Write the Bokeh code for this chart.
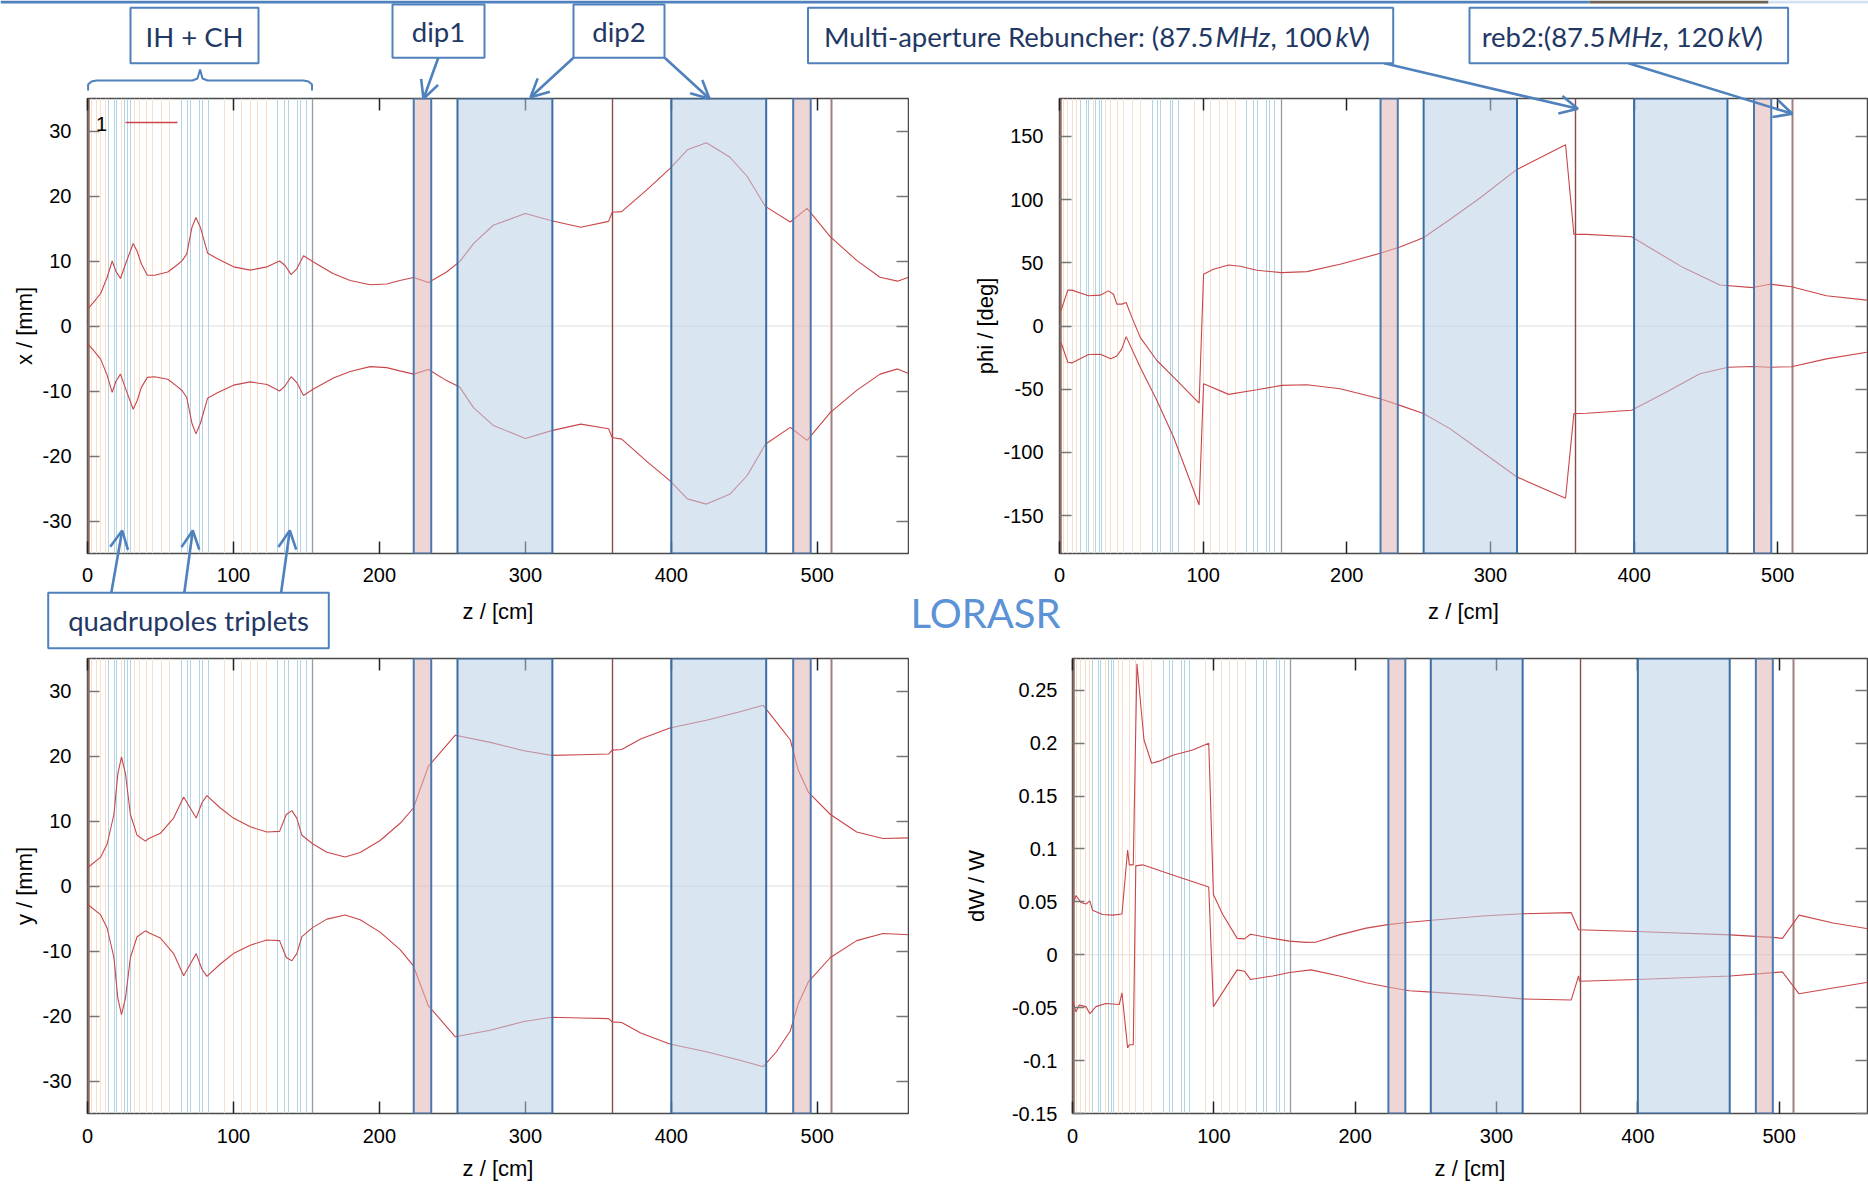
from bokeh.plotting import figure
from bokeh.layouts import column, row
from bokeh.models import (Range1d, LinearAxis, FixedTicker, BoxAnnotation, Label,
                          Arrow, OpenHead, Span)
from bokeh.embed import file_html
from bokeh.resources import INLINE

# ---------------------------------------------------------------- lattice (cm)
GAP_Z = [3.0, 5.9, 8.9, 12.1, 23.5, 32.2, 35.6, 40.2, 44.7, 50.5, 56.2,
         93.8, 100.0, 105.3, 111.4, 116.7, 122.4]
QUAD_Z = [14.4, 18.5, 20.1, 25.4, 27.6, 29.2,
          64.5, 68.5, 70.5, 77.0, 79.0, 83.0,
          130.5, 134.8, 137.5, 144.0, 146.2, 149.8]
LINAC_START_Z = [1.0]
LINAC_END_Z = [154.3]
DIP1_START = [223.5, 483.5]
DIP1_END = [235.5, 495.5]
DIP2_START = [253.5, 400.0]
DIP2_END = [318.5, 465.0]
REB1_Z = [359.5]
REB2_Z = [510.0]

# ---------------------------------------------------------------- x envelope (mm)
X_Z = [0, 4, 9, 13.5, 16.9, 19.5, 22.6, 26, 31.3, 34, 37, 41, 46, 55, 62, 65, 68,
       71.6, 74.3, 77.3, 82.3, 88.7, 100, 111.5, 123, 131.6, 135.4, 139.5, 143.4,
       148, 154.8, 168.5, 180, 193.6, 205, 214, 223.5, 233.6, 246, 255, 264.6, 278,
       300, 318, 338, 357, 359.5, 366, 383, 399, 411, 424, 440, 452, 464.4, 481.5,
       493, 509, 527, 543, 555, 562.5]
X_UP = [2.6, 3.6, 5.0, 7.5, 10.0, 8.4, 7.3, 9.5, 12.7, 11.5, 9.5, 7.8, 7.8, 8.3,
        9.5, 10.1, 11.1, 15.2, 16.7, 15.2, 11.2, 10.4, 9.1, 8.6, 9.1, 10.0, 9.3,
        7.9, 8.8, 10.8, 9.85, 8.05, 7.0, 6.35, 6.45, 7.0, 7.45, 6.7, 8.3, 9.9,
        12.7, 15.5, 17.3, 16.2, 15.2, 16.1, 17.5, 17.6, 20.9, 24.2, 27.1, 28.2,
        26.0, 23.0, 18.4, 16.0, 18.1, 13.7, 10.1, 7.5, 6.9, 7.5]
X_LO = [-2.7, -3.7, -5.1, -7.6, -10.2, -8.5, -7.4, -9.6, -12.8, -11.5, -9.4, -7.9,
        -7.8, -8.2, -9.4, -10.0, -11.0, -15.0, -16.6, -15.0, -11.1, -10.3, -9.1,
        -8.6, -9.0, -10.0, -9.2, -7.8, -8.7, -10.7, -9.7, -8.0, -7.0, -6.25, -6.4,
        -6.9, -7.4, -6.7, -8.4, -9.4, -12.6, -15.3, -17.3, -16.1, -15.1, -15.8,
        -17.15, -17.4, -20.8, -23.8, -26.6, -27.4, -25.9, -23.0, -18.2, -15.6,
        -17.6, -13.3, -9.9, -7.4, -6.6, -7.3]

# ---------------------------------------------------------------- y envelope (mm)
Y_Z = [0, 8.9, 13.5, 18.1, 20.8, 23.3, 26, 29.4, 34, 39.7, 42, 49.9, 59, 65.9, 70.9,
       74.5, 78.4, 81.8, 91, 100, 111.5, 122.9, 131.6, 136.2, 140, 143.4, 146.9,
       154.2, 164, 176.5, 186.8, 200.5, 214.2, 223.3, 233.5, 252, 276, 299, 318,
       338, 357, 359.5, 366, 379, 399, 424, 447, 463, 472, 481.5, 487, 494, 509,
       527, 545, 562.5]
Y_UP = [2.8, 4.4, 6.5, 11.0, 17.3, 19.85, 17.3, 11.0, 7.8, 6.9, 7.3, 8.1, 10.45,
        13.7, 11.8, 10.45, 12.8, 13.9, 12.0, 10.45, 9.1, 8.3, 8.4, 11.0, 11.6,
        10.45, 7.8, 6.5, 5.2, 4.47, 5.16, 7.0, 9.65, 12.0, 18.4, 23.2, 22.1, 20.8,
        20.1, 20.2, 20.3, 20.9, 21.0, 22.6, 24.3, 25.5, 26.8, 27.8, 25.2, 22.5,
        17.8, 14.4, 11.0, 8.3, 7.3, 7.4]
Y_LO = [-2.8, -4.4, -6.5, -11.0, -17.3, -19.8, -17.3, -11.0, -7.8, -6.9, -7.2,
        -8.0, -10.4, -13.8, -11.8, -10.4, -12.8, -13.9, -12.0, -10.4, -9.1, -8.3,
        -8.4, -11.0, -11.5, -10.4, -7.8, -6.4, -5.1, -4.46, -5.2, -7.1, -9.8,
        -12.3, -18.4, -23.2, -22.2, -20.85, -20.2, -20.3, -20.4, -20.9, -21.0,
        -22.6, -24.3, -25.5, -26.8, -27.8, -25.5, -22.3, -18.1, -14.7, -11.0,
        -8.4, -7.3, -7.5]

# ---------------------------------------------------------------- phase envelope (deg)
PHI_UP_Z = [1, 5.8, 8.6, 20.2, 28.3, 34.1, 37.6, 39.9, 43.4, 46.4, 50.4, 56.2, 67.8,
            79.4, 97.2, 100.3, 107.2, 117.7, 125.8, 137.4, 154.8, 172.2, 195.4,
            223.2, 237, 253.3, 271.8, 292.7, 318.2, 352.3, 358.1, 366.9, 398.2, 411,
            434.2, 459.7, 482.9, 494.5, 509.6, 533.9, 562]
PHI_UP = [12.1, 28.4, 28.4, 23.9, 24.4, 27.8, 25.1, 17.3, 17.3, 18.6, 6.8, -9.0,
          -27.3, -40.5, -61.0, 41.0, 44.9, 48.3, 47.3, 44.1, 42.2, 43.0, 48.9, 57.5,
          62.5, 69.8, 84.3, 101.3, 123.7, 143.4, 72.5, 72.5, 70.6, 61.9, 46.2, 32.5,
          30.4, 33.1, 31.0, 23.9, 20.5]
PHI_LO_Z = [1, 5.8, 8.6, 20.2, 28.3, 35.7, 39.9, 43.4, 46.4, 56.2, 67.8, 79.4, 97.2,
            100.3, 117.7, 137.4, 154.8, 172.2, 195.4, 223.2, 237, 253.3, 271.8,
            292.7, 318.2, 352.3, 358.1, 366.9, 398.2, 422.6, 445.8, 465.5, 482.9,
            494.5, 509.6, 533.9, 562]
PHI_LO = [-12.9, -28.7, -29.2, -22.6, -22.3, -26.0, -23.7, -18.1, -8.4, -32.6,
          -58.9, -87.8, -141.6, -45.7, -54.1, -50.4, -47.0, -46.5, -49.7, -57.5,
          -62.8, -69.3, -81.2, -98.3, -119.3, -136.3, -69.3, -69.0, -66.7, -52.3,
          -37.8, -32.6, -32.0, -32.6, -32.3, -26.0, -20.8]

# ---------------------------------------------------------------- energy spread dW/W
DW_UP_Z = [0, 2.4, 6, 9.5, 12.3, 14.2, 21.3, 28.4, 35, 39, 40.2, 43, 45.6, 50.6, 56,
           61.4, 70.9, 85, 96.4, 99.7, 106.3, 116.5, 121.7, 125.9, 141.7, 153.5,
           165.3, 172.4, 188.9, 207.8, 223.1, 238.4, 254.3, 290.4, 318.2, 352.9,
           358.1, 399.1, 465.2, 498, 502.3, 514.1, 538.2, 563]
DW_UP = [0.046, 0.056, 0.0495, 0.048, 0.051, 0.042, 0.038, 0.0375, 0.0385, 0.099,
         0.085, 0.085, 0.275, 0.203, 0.181, 0.183, 0.1886, 0.1935, 0.200, 0.057,
         0.038, 0.0155, 0.015, 0.0194, 0.0155, 0.0129, 0.0117, 0.012, 0.0188,
         0.0252, 0.0285, 0.0307, 0.0327, 0.0366, 0.0388, 0.0398, 0.0236, 0.022,
         0.0188, 0.0162, 0.0155, 0.0375, 0.030, 0.0246]
DW_LO_Z = [0, 2.4, 4.7, 9.5, 12.3, 16.6, 23.6, 33.1, 35, 39, 40.2, 43, 44.8, 49.6,
           70.9, 96.4, 99.7, 116.5, 121.7, 125.9, 141.7, 153.5, 168.8, 188.9, 207.8,
           223.1, 238.4, 254.3, 290.4, 318.2, 352.9, 358.1, 358.8, 399.1, 465.2,
           502.3, 514.1, 538.2, 563]
DW_LO = [-0.0427, -0.054, -0.0476, -0.049, -0.0557, -0.049, -0.046, -0.047, -0.036,
         -0.088, -0.085, -0.085, 0.084, 0.085, 0.0754, 0.064, -0.049, -0.0143,
         -0.0155, -0.0233, -0.020, -0.0168, -0.0143, -0.020, -0.0265, -0.0304,
         -0.034, -0.0353, -0.0385, -0.0417, -0.0427, -0.020, -0.025, -0.0233,
         -0.020, -0.0162, -0.0369, -0.0314, -0.0259]

# ---------------------------------------------------------------- axes
Z_TICKS = [0, 100, 200, 300, 400, 500]
Z_TICK_LABELS = ["0", "100", "200", "300", "400", "500"]
MM_TICKS = [-30, -20, -10, 0, 10, 20, 30]
MM_TICK_LABELS = ["-30", "-20", "-10", "0", "10", "20", "30"]
PHI_TICKS = [-150, -100, -50, 0, 50, 100, 150]
PHI_TICK_LABELS = ["-150", "-100", "-50", "0", "50", "100", "150"]
DW_TICKS = [-0.15, -0.1, -0.05, 0, 0.05, 0.1, 0.15, 0.2, 0.25]
DW_TICK_LABELS = ["-0.15", "-0.1", "-0.05", "0", "0.05", "0.1", "0.15", "0.2", "0.25"]
Z_END = 562.5

# ---------------------------------------------------------------- style
CURVE = "#c9464a"
BOX_BLUE = "#4f81bd"
NAVY = "#1f3864"
CALLOUT_FONT = "Lato"
AXIS_FONT = "Liberation Sans"

PAGE_W, PAGE_H = 1868, 1187
SPLIT_X = 909
ROW_Y = 652


def mirror_axis(ticks, color):
    return LinearAxis(ticker=FixedTicker(ticks=ticks), major_tick_in=12, major_tick_out=0,
                      minor_tick_line_color=None, axis_line_color=None,
                      major_tick_line_color=color, major_tick_line_width=1.5,
                      major_label_text_font_size="0px", major_label_standoff=0,
                      major_label_overrides={t: "" for t in ticks})


def panel(ox, oy, w, h, frame, ylo, yhi, yticks, ylabels, ytitle, ylab_std, ytitle_std,
          xlab_std, xtitle_std):
    fx0, fx1, fy0, fy1 = frame
    p = figure(width=w, height=h, title=None, tools="", toolbar_location=None,
               output_backend="svg",
               x_range=Range1d(0, Z_END), y_range=Range1d(ylo, yhi),
               min_border_left=fx0 - ox, min_border_right=ox + w - fx1,
               min_border_top=fy0 - oy, min_border_bottom=oy + h - fy1,
               background_fill_color="white", border_fill_color="white")
    p.grid.visible = False
    p.outline_line_color = "#4a4a4a"
    p.outline_line_width = 1.5

    xa = p.xaxis[0]
    xa.ticker = FixedTicker(ticks=Z_TICKS)
    xa.major_label_overrides = dict(zip(Z_TICKS, Z_TICK_LABELS))
    xa.axis_label = "z / [cm]"
    ya = p.yaxis[0]
    ya.ticker = FixedTicker(ticks=yticks)
    ya.major_label_overrides = dict(zip(yticks, ylabels))
    ya.axis_label = ytitle
    for ax, tcol in ((xa, "#222222"), (ya, "#777777")):
        ax.major_tick_in = 12
        ax.major_tick_out = 0
        ax.major_tick_line_color = tcol
        ax.major_tick_line_width = 1.5
        ax.minor_tick_line_color = None
        ax.axis_line_color = None
        ax.major_label_text_font = AXIS_FONT
        ax.major_label_text_font_size = "20px"
        ax.major_label_text_color = "black"
        ax.axis_label_text_font = AXIS_FONT
        ax.axis_label_text_font_size = "22px"
        ax.axis_label_text_font_style = "normal"
        ax.axis_label_text_color = "black"
    xa.major_label_standoff = xlab_std
    xa.axis_label_standoff = xtitle_std
    ya.major_label_standoff = ylab_std
    ya.axis_label_standoff = ytitle_std

    p.add_layout(mirror_axis(Z_TICKS, "#222222"), "above")
    p.add_layout(mirror_axis(yticks, "#777777"), "right")

    # beamline elements
    p.add_layout(Span(location=0, dimension="width", line_color="#dedede",
                      line_width=1, level="underlay"))
    p.vspan(x=GAP_Z, line_color="#f6e0cb", line_width=1)
    p.vspan(x=QUAD_Z, line_color="#b3d5e3", line_width=1)
    p.vspan(x=LINAC_START_Z, line_color="#8c6e64", line_width=2.5)
    p.vspan(x=LINAC_END_Z, line_color="#9a9a9a", line_width=1.3)
    p.vspan(x=REB1_Z, line_color="#8e4a4a", line_width=1.4)
    p.vspan(x=REB2_Z, line_color="#a07f7f", line_width=2)
    return p


def elements_overlay(p):
    for a, b in zip(DIP1_START, DIP1_END):
        p.add_layout(BoxAnnotation(left=a, right=b, fill_color="#e0b4b4", fill_alpha=0.55,
                                   line_color="#4a78b0", line_width=2, line_alpha=1.0))
    for a, b in zip(DIP2_START, DIP2_END):
        p.add_layout(BoxAnnotation(left=a, right=b, fill_color="#bcd0e8", fill_alpha=0.55,
                                   line_color="#3b6ea3", line_width=2, line_alpha=1.0))


def envelope(p, zu, up, zl, lo):
    p.line(zu, up, line_color=CURVE, line_width=1.1)
    p.line(zl, lo, line_color=CURVE, line_width=1.1)


# ---------------------------------------------------------------- panels
tl = panel(0, 0, SPLIT_X, ROW_Y, (87, 908, 98, 553), -35, 35, MM_TICKS, MM_TICK_LABELS,
           "x / [mm]", 16, 3, 14, 14)
envelope(tl, X_Z, X_UP, X_Z, X_LO)
elements_overlay(tl)

tr = panel(SPLIT_X, 0, PAGE_W - SPLIT_X, ROW_Y, (1059, 1867, 98, 553), -180, 180,
           PHI_TICKS, PHI_TICK_LABELS, "phi / [deg]", 16, 2, 14, 14)
envelope(tr, PHI_UP_Z, PHI_UP, PHI_LO_Z, PHI_LO)
elements_overlay(tr)

bl = panel(0, ROW_Y, SPLIT_X, PAGE_H - ROW_Y, (87, 908, 658, 1113), -35, 35, MM_TICKS,
           MM_TICK_LABELS, "y / [mm]", 16, 3, 15, 10)
envelope(bl, Y_Z, Y_UP, Y_Z, Y_LO)
elements_overlay(bl)

br = panel(SPLIT_X, ROW_Y, PAGE_W - SPLIT_X, PAGE_H - ROW_Y, (1072, 1867, 658, 1113),
           -0.15, 0.28, DW_TICKS, DW_TICK_LABELS, "dW / W", 15, 20, 15, 10)
envelope(br, DW_UP_Z, DW_UP, DW_LO_Z, DW_LO)
elements_overlay(br)

# plot key of the x panel (inside its frame, in screen pixels of the frame)
tl.add_layout(Label(x=14, y=430, x_units="screen", y_units="screen", text="1",
                    text_font=AXIS_FONT, text_font_size="20px", text_color="black",
                    text_align="center", text_baseline="middle"))
tl.add_layout(Arrow(end=None, x_start=38, y_start=431, x_end=90, y_end=431,
                    start_units="screen", end_units="screen",
                    line_color=CURVE, line_width=1.3))

panels = column(row(tl, tr), row(bl, br))

# ---------------------------------------------------------------- slide annotations
# a transparent layer in page pixels, pinned over the four panels
ov = figure(width=PAGE_W, height=PAGE_H, title=None, tools="", toolbar_location=None,
            output_backend="svg", x_range=Range1d(0, PAGE_W), y_range=Range1d(PAGE_H, 0),
            x_axis_type=None, y_axis_type=None, min_border=0, outline_line_color=None,
            background_fill_alpha=0, border_fill_alpha=0,
            styles={"position": "absolute", "top": "0px", "left": "0px",
                    "pointer-events": "none"})


def arrow(x0, y0, x1, y1, head=18, width=2.6):
    ov.add_layout(Arrow(end=OpenHead(size=head, line_color=BOX_BLUE, line_width=width),
                        x_start=x0, y_start=y0, x_end=x1, y_end=y1,
                        line_color=BOX_BLUE, line_width=width))


def callout(x0, x1, y0, y1):
    ov.add_layout(BoxAnnotation(left=x0, right=x1, top=y0, bottom=y1,
                                fill_color="white", fill_alpha=1.0,
                                line_color=BOX_BLUE, line_width=2, line_alpha=1.0))


def text(x, y, s, size=27.5, color=NAVY, align="center", style="normal"):
    ov.add_layout(Label(x=x, y=y, text=s, text_font=CALLOUT_FONT,
                        text_font_size=f"{size}px", text_color=color,
                        text_align=align, text_baseline="middle",
                        text_font_style=style))


# slide rule along the top edge
for x0, x1, c in ((0, 1589, "#4f81bd"), (1589, 1768, "#6e6256"), (1768, PAGE_W, "#d3e2f1")):
    ov.add_layout(BoxAnnotation(left=x0, right=x1, top=0, bottom=3, fill_color=c,
                                fill_alpha=1.0, line_color=None))

# brace over the linac section
ov.line([87.6, 87.6, 91, 96, 192, 197, 199.6, 202, 207, 303, 308, 311.5, 311.5],
        [90, 84, 81, 80, 80, 78, 69, 78, 80, 80, 81, 84, 90],
        line_color=BOX_BLUE, line_width=2)

for a in [(437.8, 57.3, 423, 98.3), (573, 57.3, 530, 96.7), (664.2, 57.3, 709, 98.3),
          (1383.7, 62.7, 1577.4, 108.3), (1628, 62.7, 1791.8, 113.3),
          (110.8, 592.3, 121.7, 530), (183.8, 592.3, 192.3, 530),
          (280.6, 592.3, 289.3, 530)]:
    arrow(*a)

callout(130, 258, 7.3, 62.7)
text(194, 36, "IH + CH")
callout(392, 484, 4, 57.3)
text(438, 31, "dip1")
callout(573, 664, 4, 57.3)
text(618.5, 31, "dip2")

callout(807.5, 1392.7, 7.3, 62.7)
text(1213, 36, "Multi-aperture Rebuncher: (87.5", align="right")
text(1215, 36, "MHz", align="left", style="italic")
text(1270, 36, ", 100", align="left")
text(1335, 36, "kV", align="left", style="italic")
text(1362, 36, ")", align="left")

callout(1469, 1787.6, 7.3, 62.7)
text(1605, 36, "reb2:(87.5", align="right")
text(1607, 36, "MHz", align="left", style="italic")
text(1662, 36, ", 120", align="left")
text(1727, 36, "kV", align="left", style="italic")
text(1755, 36, ")", align="left")

callout(47.7, 328.3, 592.3, 647.7)
text(188, 620, "quadrupoles triplets")

text(985, 612, "LORASR", size=40, color="#5b93d6")

open("out.html", "w").write(file_html([panels, ov], INLINE))
